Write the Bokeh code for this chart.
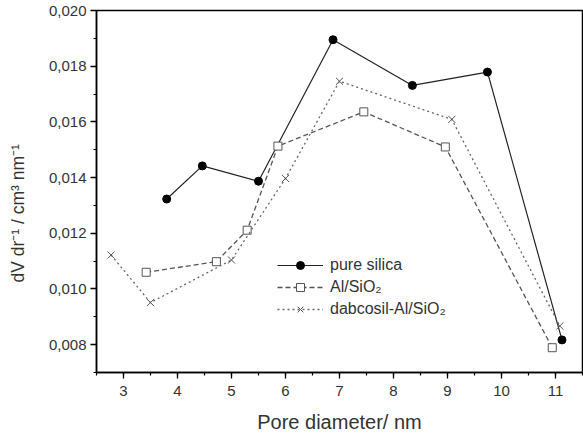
from bokeh.plotting import figure
from bokeh.models import (Range1d, SingleIntervalTicker, CustomJSTickFormatter, Legend, LegendItem)
from bokeh.embed import file_html
from bokeh.resources import INLINE

# Data
pure_x = [3.8, 4.46, 5.5, 6.88, 8.35, 9.74, 11.12]
pure_y = [0.01323, 0.01442, 0.01387, 0.01895, 0.01731, 0.01779, 0.00817]
al_x = [3.42, 4.72, 5.29, 5.86, 7.45, 8.96, 10.94]
al_y = [0.01060, 0.01098, 0.01211, 0.01513, 0.01636, 0.01510, 0.00789]
dab_x = [2.77, 3.5, 5.0, 6.0, 7.0, 9.08, 11.08]
dab_y = [0.01122, 0.00951, 0.01104, 0.01397, 0.01746, 0.01609, 0.00867]
labels = ["pure silica", "Al/SiO\u2082", "dabcosil-Al/SiO\u2082"]
x_title = "Pore diameter/ nm"
y_title = "dV dr\u207b\u00b9 / cm\u00b3 nm\u207b\u00b9"

FONT = "Liberation Sans"
TXT = "#333333"

p = figure(width=583, height=435, output_backend="svg", toolbar_location=None,
           x_range=Range1d(2.5, 11.5), y_range=Range1d(0.007, 0.020),
           min_border_left=96, min_border_right=1, min_border_top=10, min_border_bottom=62)
p.grid.visible = False
p.outline_line_color = "#000000"
p.outline_line_width = 1.5
p.background_fill_color = "white"
p.border_fill_color = "white"

p.xaxis.ticker = SingleIntervalTicker(interval=1, num_minor_ticks=2)
p.yaxis.ticker = SingleIntervalTicker(interval=0.002, num_minor_ticks=2)
p.yaxis.formatter = CustomJSTickFormatter(code="return tick.toFixed(3).replace('.', ',');")
for ax in (p.xaxis[0], p.yaxis[0]):
    ax.axis_line_color = "#000000"
    ax.axis_line_width = 1.5
    ax.major_tick_line_color = "#000000"
    ax.minor_tick_line_color = "#000000"
    ax.major_tick_line_width = 1.3
    ax.minor_tick_line_width = 1.2
    ax.major_tick_out = 6
    ax.major_tick_in = 0
    ax.minor_tick_out = 3
    ax.minor_tick_in = 0
    ax.major_label_text_font = FONT
    ax.major_label_text_font_size = "15px"
    ax.major_label_text_color = TXT
    ax.axis_label_text_font = FONT
    ax.axis_label_text_font_style = "normal"
    ax.axis_label_text_color = TXT
p.xaxis.axis_label = x_title
p.yaxis.axis_label = y_title + "\u00a0" * 9
p.xaxis.axis_label_text_font_size = "20px"
p.yaxis.axis_label_text_font_size = "17.5px"
p.xaxis.axis_label_text_line_height = 0.8
p.yaxis.axis_label_text_line_height = 1.0
p.xaxis.major_label_standoff = 7
p.yaxis.major_label_standoff = 4
p.xaxis.axis_label_standoff = 12
p.yaxis.axis_label_standoff = 18

l1 = p.line(pure_x, pure_y, line_color="#222222", line_width=1.2)
m1 = p.scatter(pure_x, pure_y, marker="circle", size=8, fill_color="black", line_color="black")
l2 = p.line(al_x, al_y, line_color="#555555", line_width=1.3, line_dash="5 3")
m2 = p.scatter(al_x, al_y, marker="square", size=8, fill_color="white", line_color="#555555", line_width=1)
l3 = p.line(dab_x, dab_y, line_color="#666666", line_width=1.3, line_dash="2 3")
m3 = p.scatter(dab_x, dab_y, marker="x", size=10, line_color="#555555", line_width=1)

legend = Legend(items=[LegendItem(label=labels[0], renderers=[l1, m1]),
                       LegendItem(label=labels[1], renderers=[l2, m2]),
                       LegendItem(label=labels[2], renderers=[l3, m3])],
                location=(181, 53), glyph_width=46, glyph_height=20, label_height=20,
                spacing=2, padding=0, margin=0, label_standoff=7,
                border_line_alpha=0, background_fill_alpha=0,
                label_text_font=FONT, label_text_font_size="16px", label_text_color=TXT)
p.add_layout(legend, "center")

open("out.html", "w").write(file_html(p, INLINE))
